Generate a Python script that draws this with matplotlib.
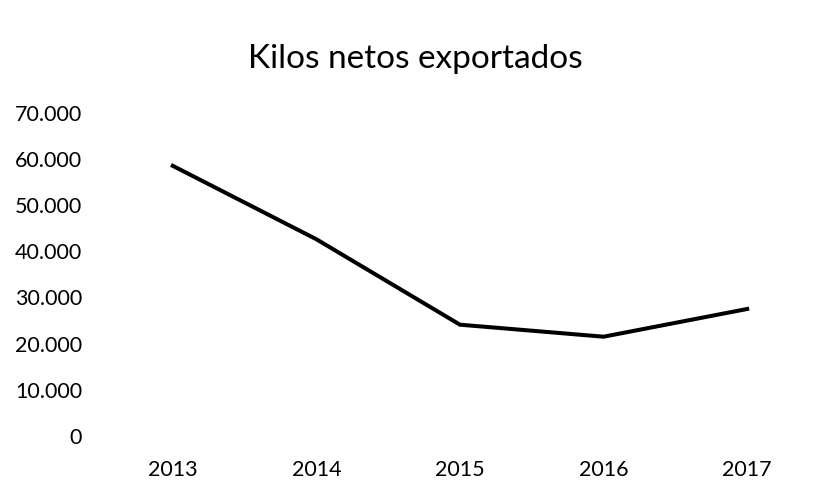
import matplotlib
matplotlib.use("Agg")
import matplotlib.pyplot as plt
from matplotlib.ticker import FuncFormatter, MultipleLocator

years = ["2013", "2014", "2015", "2016", "2017"]
kilos = [58500, 42600, 24100, 21500, 27500]

plt.rcParams['font.family'] = ['Lato', 'DejaVu Sans']

fig = plt.figure(figsize=(8.31, 4.98), dpi=100)
ax = fig.add_axes([0.1215, 0.1245, 0.864, 0.6492])

x = range(len(years))
ax.plot(x, kilos, color='black', linewidth=2.9, solid_joinstyle='miter')

ax.set_xlim(-0.5, len(years) - 0.5)
ax.set_ylim(0, 70000)
ax.yaxis.set_major_locator(MultipleLocator(10000))
ax.yaxis.set_major_formatter(FuncFormatter(lambda v, p: f"{int(v):,}".replace(",", ".")))
ax.set_xticks(list(x))
ax.set_xticklabels(years)

for s in ax.spines.values():
    s.set_visible(False)
ax.tick_params(axis='both', length=0, labelsize=15.5, colors='black')
ax.tick_params(axis='y', pad=13.5)
ax.tick_params(axis='x', pad=17)

fig.text(0.5, 1 - 68 / 498, "Kilos netos exportados", ha='center', va='baseline',
         fontsize=24, color='black')

fig.savefig("out.png", dpi=100, facecolor='white')
